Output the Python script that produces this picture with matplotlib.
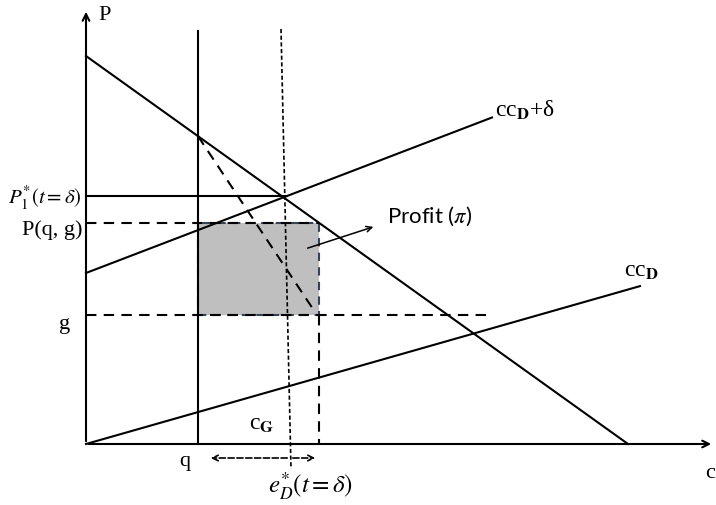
import matplotlib
matplotlib.use('Agg')
import matplotlib.pyplot as plt
from matplotlib.patches import Rectangle

plt.rcParams['mathtext.fontset'] = 'stix'

# diagram values (origin at the axes corner)
demand = [388, 542]          # P intercept, c intercept
cc_shift = [171, 0.383]      # ccD + delta: intercept, slope
cc_base = [0, 0.285]         # ccD: intercept, slope
q = 112
e_d = [195, 205]             # dotted e_D line, x at top / bottom
p1 = 248
p_qg = 221
g = 129
c_right = 233
x_max = 630
y_max = 435

serif = 'Liberation Serif'

fig = plt.figure(figsize=(7.16, 5.06), dpi=100)
ax = fig.add_axes([0, 0, 1, 1])
ax.set_xlim(-86, 630)
ax.set_ylim(-61, 445)
ax.axis('off')

lw = 1.5
# axes with arrows
ax.annotate('', xy=(0, y_max), xytext=(0, 0),
            arrowprops=dict(arrowstyle='->', lw=lw, color='black', mutation_scale=12))
ax.annotate('', xy=(x_max - 2, 0), xytext=(0, 0),
            arrowprops=dict(arrowstyle='->', lw=lw, color='black', mutation_scale=12))

# demand line
ax.plot([0, demand[1]], [demand[0], 0], color='black', lw=lw)
# ccD + delta
x1 = 406
ax.plot([0, x1], [cc_shift[0], cc_shift[0] + cc_shift[1] * x1], color='black', lw=lw)
# ccD
x2 = 554
ax.plot([0, x2], [cc_base[0], cc_base[0] + cc_base[1] * x2], color='black', lw=lw)

# profit rectangle
ax.add_patch(Rectangle((q, g), c_right - q, p_qg - g, facecolor='#bfbfbf',
                       edgecolor='#334455', lw=lw, ls=(0, (4, 3)), zorder=1))

# vertical q line
ax.plot([q, q], [0, 413], color='black', lw=lw)
# dotted e_D line
ax.plot([e_d[0], e_d[1]], [415, -25], color='black', lw=1.2, ls=(0, (2.5, 1.5)))
# P1* horizontal
ax.plot([0, 201], [p1, p1], color='black', lw=lw)
# P(q,g) and g dashed
ax.plot([0, c_right], [p_qg, p_qg], color='black', lw=lw, ls=(0, (5, 3.5)))
ax.plot([0, 401], [g, g], color='black', lw=lw, ls=(0, (5, 3.5)))
# right dashed vertical
ax.plot([c_right, c_right], [g, 0], color='black', lw=lw, ls=(0, (5, 3.5)))
# diagonal dashed
d_top = demand[0] - demand[0] / demand[1] * q
ax.plot([q, c_right - 4], [d_top, g + 3], color='black', lw=lw, ls=(0, (5, 3.5)))

# profit arrow
ax.annotate('', xy=(290, 218), xytext=(219, 195),
            arrowprops=dict(arrowstyle='->', lw=1.1, color='black', mutation_scale=10))
ax.text(301, 229, r'Profit ($\pi$)', fontsize=16, family='Lato',
        va='center', ha='left')

# double arrow under x axis
ax.annotate('', xy=(122, -14), xytext=(204, -14),
            arrowprops=dict(arrowstyle='->', lw=1.2, color='black', ls='--', mutation_scale=10))
ax.annotate('', xy=(232, -14), xytext=(204, -14),
            arrowprops=dict(arrowstyle='->', lw=1.2, color='black', ls='--', mutation_scale=10))

# labels
ax.text(12, 430, 'P', fontsize=16, family=serif, va='center')
ax.text(619, -29, 'c', fontsize=16, family=serif, va='center')
ax.text(99, -17, 'q', fontsize=16, family=serif, va='center', ha='center')
ax.text(176, 20, r'c$_{\mathbf{G}}$', fontsize=17, family=serif, va='center', ha='center')
ax.text(409, 335, r'cc$_{\mathbf{D}}$+δ', fontsize=17, family=serif, va='center')
ax.text(538, 173, r'cc$_{\mathbf{D}}$', fontsize=17, family=serif, va='center')
ax.text(-16, g - 8, 'g', fontsize=16, family=serif, va='center', ha='right')
ax.text(-4, p_qg - 6, 'P(q, g)', fontsize=16, family=serif, va='center', ha='right')
ax.text(-4, p1 - 1, r'$P_1^{*}(t=\delta)$', fontsize=15, va='center', ha='right')
ax.text(225, -41, r'$e_D^{*}(t=\delta)$', fontsize=18, va='center', ha='center')

fig.savefig('out.png', dpi=100)
